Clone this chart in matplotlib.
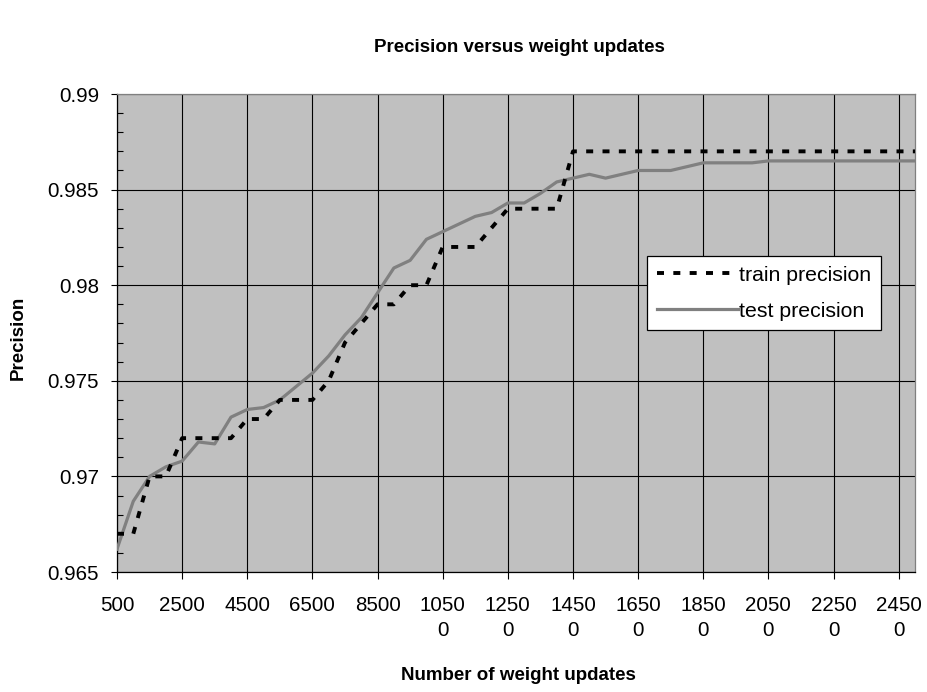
''' Precision versus weight updates
train / test precision plotted against number of weight updates '''

import matplotlib
matplotlib.use('Agg')
import matplotlib.pyplot as plt
from matplotlib.ticker import MultipleLocator

plt.rcParams['font.family'] = ['Liberation Sans', 'DejaVu Sans']

# number of weight updates, one category every 500
updates = list(range(500, 25001, 500))

train_precision = [0.967, 0.967, 0.970, 0.970, 0.972, 0.972, 0.972, 0.972, 0.973, 0.973,
                   0.974, 0.974, 0.974, 0.975, 0.977, 0.978, 0.979, 0.979, 0.980, 0.980,
                   0.982, 0.982, 0.982, 0.983, 0.984, 0.984, 0.984, 0.984, 0.987, 0.987,
                   0.987, 0.987, 0.987, 0.987, 0.987, 0.987, 0.987, 0.987, 0.987, 0.987,
                   0.987, 0.987, 0.987, 0.987, 0.987, 0.987, 0.987, 0.987, 0.987, 0.987]

test_precision = [0.9662, 0.9687, 0.9700, 0.9705, 0.9708, 0.9718, 0.9717, 0.9731, 0.9735, 0.9736,
                  0.9740, 0.9747, 0.9754, 0.9763, 0.9774, 0.9783, 0.9796, 0.9809, 0.9813, 0.9824,
                  0.9828, 0.9832, 0.9836, 0.9838, 0.9843, 0.9843, 0.9848, 0.9854, 0.9856, 0.9858,
                  0.9856, 0.9858, 0.9860, 0.9860, 0.9860, 0.9862, 0.9864, 0.9864, 0.9864, 0.9864,
                  0.9865, 0.9865, 0.9865, 0.9865, 0.9865, 0.9865, 0.9865, 0.9865, 0.9865, 0.9865]

x_ticks = list(range(500, 24501, 2000))
x_tick_labels = ['500', '2500', '4500', '6500', '8500', '1050\n0', '1250\n0', '1450\n0',
                 '1650\n0', '1850\n0', '2050\n0', '2250\n0', '2450\n0']
y_ticks = [0.965, 0.97, 0.975, 0.98, 0.985, 0.99]
y_tick_labels = ['0.965', '0.97', '0.975', '0.98', '0.985', '0.99']

fig = plt.figure(figsize=(9.27, 6.92), dpi=100)
ax = fig.add_axes([117/927, 1 - 572/692, (915 - 117)/927, (572 - 94)/692])
ax.set_facecolor('#C0C0C0')

ax.plot(updates, test_precision, color='#808080', lw=2.3, label='test precision', zorder=3)
ax.plot(updates, train_precision, color='black', lw=2.8, dashes=(1.8, 2.4),
        label='train precision', zorder=4)

ax.set_xlim(500, 25000)
ax.set_ylim(0.965, 0.99)
ax.set_xticks(x_ticks)
ax.set_xticklabels(x_tick_labels, linespacing=1.45)
ax.set_yticks(y_ticks)
ax.set_yticklabels(y_tick_labels)
ax.yaxis.set_minor_locator(MultipleLocator(0.001))

ax.grid(True, which='major', color='black', lw=0.8)
ax.set_axisbelow(True)
ax.tick_params(axis='x', which='major', direction='out', length=5, width=0.8, pad=12, labelsize=14.8)
ax.tick_params(axis='y', which='major', direction='out', length=4, width=0.8, pad=9, labelsize=14.8)
ax.tick_params(axis='y', which='minor', direction='in', length=4, width=0.8)

for side in ['left', 'bottom']:
    ax.spines[side].set_color('black')
    ax.spines[side].set_linewidth(0.9)
for side in ['top', 'right']:
    ax.spines[side].set_color('#808080')
    ax.spines[side].set_linewidth(0.9)

# legend: train first, then test
h, l = ax.get_legend_handles_labels()
leg = fig.legend(h[::-1], l[::-1], loc='upper left', bbox_to_anchor=(647/927, 1 - 256/692),
                 fontsize=15.3, frameon=True, fancybox=False, borderpad=0.45,
                 handlelength=3.85, handletextpad=0.05, labelspacing=0.8, borderaxespad=0)
leg.get_frame().set_edgecolor('black')
leg.get_frame().set_linewidth(0.9)
leg.get_frame().set_facecolor('white')
leg.get_frame().set_alpha(1)

fig.text(519/927, 1 - 47/692, 'Precision versus weight updates', ha='center', va='center',
         fontsize=13.5, fontweight='bold')
fig.text(518/927, 1 - 675/692, 'Number of weight updates', ha='center', va='center',
         fontsize=13.5, fontweight='bold')
fig.text(18/927, 1 - 338/692, 'Precision', ha='center', va='center', rotation=90,
         fontsize=13.5, fontweight='bold')

plt.savefig('out.png', dpi=100, facecolor='white')
